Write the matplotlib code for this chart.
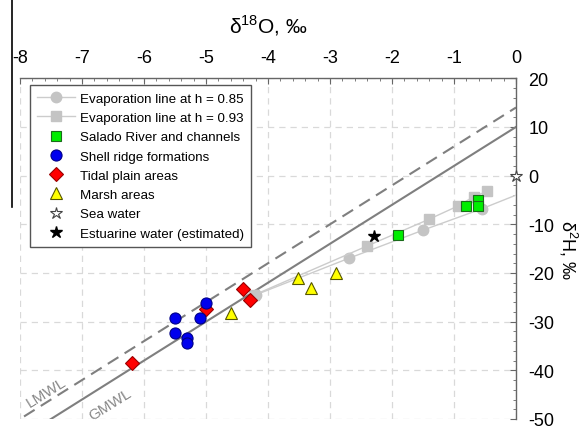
import matplotlib
matplotlib.use("Agg")
import numpy as np
import matplotlib.pyplot as plt
from matplotlib.lines import Line2D
from matplotlib.ticker import MultipleLocator

plt.rcParams.update({
    "font.family": ["Liberation Sans", "DejaVu Sans"],
    "mathtext.fontset": "custom",
    "mathtext.rm": "Liberation Sans",
    "axes.unicode_minus": False,
})

# meteoric water lines: dD = slope * d18O + intercept
GMWL_SLOPE, GMWL_INTERCEPT = 8.0, 10.0
LMWL_SLOPE, LMWL_INTERCEPT = 8.0, 14.0

# evaporation lines (last point of h=0.85 is the line end, no marker)
evap85_x = [-4.2, -2.7, -1.5, -0.55, 0.0]
evap85_y = [-24.5, -17.0, -11.2, -6.8, -4.0]
evap93_x = [-4.22, -2.41, -1.41, -0.93, -0.68, -0.46]
evap93_y = [-24.5, -14.5, -9.0, -6.2, -4.3, -3.2]

salado_x = [-1.90, -0.81, -0.61, -0.61]
salado_y = [-12.2, -6.2, -5.0, -6.3]
shell_x = [-5.5, -5.5, -5.3, -5.3, -5.1, -5.0]
shell_y = [-29.3, -32.3, -33.3, -34.4, -29.3, -26.2]
tidal_x = [-6.2, -5.0, -4.4, -4.29]
tidal_y = [-38.5, -27.4, -23.3, -25.5]
marsh_x = [-4.6, -3.51, -3.30, -2.91]
marsh_y = [-28.2, -21.0, -23.1, -20.0]
sea_x, sea_y = [0.0], [0.0]
estuarine_x, estuarine_y = [-2.29], [-12.5]

fig = plt.figure(figsize=(5.79, 4.27), dpi=100)
ax = fig.add_axes([20 / 579, 1 - 420 / 427, 496 / 579, (420 - 79.3) / 427])

xx = np.array([-8.5, 0.0])
ax.plot(xx, GMWL_SLOPE * xx + GMWL_INTERCEPT, color="#7f7f7f", lw=1.5, zorder=2)
ax.plot(xx, LMWL_SLOPE * xx + LMWL_INTERCEPT, color="#7f7f7f", lw=1.5,
        linestyle=(0, (6, 3.5)), zorder=2)

ax.plot(evap85_x, evap85_y, color="#cccccc", lw=1.0, marker="o", ms=7.5,
        mfc="#c4c4c4", mec="#c4c4c4", markevery=[0, 1, 2, 3], zorder=3,
        label="Evaporation line at h = 0.85")
ax.plot(evap93_x, evap93_y, color="#cccccc", lw=1.0, marker="s", ms=6.5,
        mfc="#c4c4c4", mec="#c4c4c4", zorder=3,
        label="Evaporation line at h = 0.93")

ax.plot(salado_x, salado_y, ls="none", marker="s", ms=7.5, mfc="#00ee00",
        mec="#1a6b1a", mew=0.8, zorder=5, label="Salado River and channels")
ax.plot(shell_x, shell_y, ls="none", marker="o", ms=8, mfc="#0000ee",
        mec="#000088", mew=0.8, zorder=6, label="Shell ridge formations")
ax.plot(tidal_x, tidal_y, ls="none", marker="D", ms=7, mfc="#ff0000",
        mec="#990000", mew=0.8, zorder=5, label="Tidal plain areas")
ax.plot(marsh_x, marsh_y, ls="none", marker="^", ms=8.5, mfc="#ffff00",
        mec="#555500", mew=0.8, zorder=5, label="Marsh areas")
ax.plot(sea_x, sea_y, ls="none", marker="*", ms=9, mfc="white",
        mec="#444444", mew=0.8, zorder=7, clip_on=False, label="Sea water")
ax.plot(estuarine_x, estuarine_y, ls="none", marker="*", ms=9, mfc="black",
        mec="black", zorder=7, label="Estuarine water (estimated)")

ax.text(-7.57, -44.5, "LMWL", color="#888888", fontsize=11, rotation=32,
        ha="center", va="center", rotation_mode="anchor")
ax.text(-6.55, -46.9, "GMWL", color="#888888", fontsize=11, rotation=32,
        ha="center", va="center", rotation_mode="anchor")

ax.set_xlim(-8, 0)
ax.set_ylim(-50, 20)
ax.xaxis.tick_top()
ax.yaxis.tick_right()
ax.xaxis.set_major_locator(MultipleLocator(1))
ax.xaxis.set_minor_locator(MultipleLocator(0.2))
ax.yaxis.set_major_locator(MultipleLocator(10))
ax.yaxis.set_minor_locator(MultipleLocator(2))
ax.tick_params(which="major", direction="in", length=4, width=0.8,
               color="#666666", labelsize=13)
ax.tick_params(which="minor", direction="in", length=2, width=0.6, color="#666666")
ax.tick_params(axis="x", which="major", pad=9)
ax.tick_params(axis="y", which="major", pad=9)
for side in ("left", "bottom"):
    ax.spines[side].set_visible(False)
for side in ("top", "right"):
    ax.spines[side].set_color("#666666")
    ax.spines[side].set_linewidth(1.0)
ax.grid(True, which="major", color="#d9d9d9", linestyle=(0, (5, 4)), lw=0.9)
ax.set_axisbelow(True)

ax.xaxis.set_label_position("top")
ax.set_xlabel(r"δ$^{\mathrm{18}}$O, ‰", fontsize=15, labelpad=12)
ax.yaxis.set_label_position("right")
ax.set_ylabel(r"δ$^{\mathrm{2}}$H, ‰", fontsize=13, rotation=270,
              ha="center", va="center")
ax.yaxis.set_label_coords(1.104, 0.5)

leg = ax.legend(loc="upper left", bbox_to_anchor=(0.02, 0.98), borderaxespad=0,
                fontsize=9.6, handlelength=2.8, handletextpad=0.4,
                labelspacing=0.52, borderpad=0.55, fancybox=False,
                framealpha=1, edgecolor="#555555")
leg.get_frame().set_linewidth(1.0)

fig.add_artist(Line2D([12 / 579, 12 / 579], [1, 1 - 208 / 427],
                      color="black", lw=1.2))

fig.savefig("out.png", dpi=100)
